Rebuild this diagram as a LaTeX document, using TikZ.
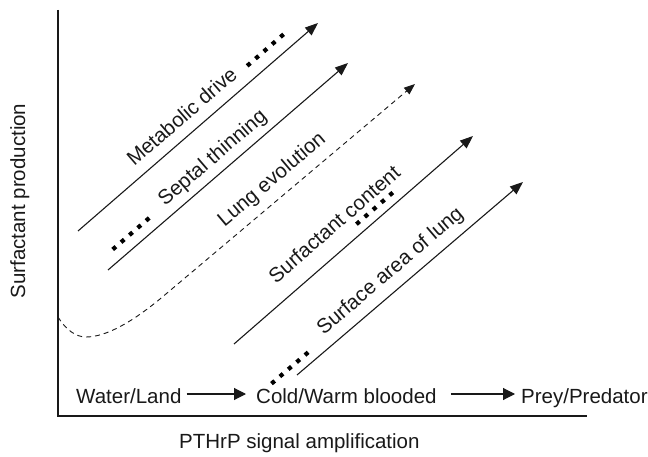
\documentclass[tikz,border=0pt]{standalone}
\usepackage{fontspec}
\setmainfont{Liberation Sans}
\usetikzlibrary{arrows.meta,calc}

\tikzset{
  ink/.style={draw=black!90},
  axisline/.style={ink, line width=1.3pt},
  trend/.style={ink, line width=1.1pt, -{Triangle[length=13pt,width=10pt]}},
  trenddash/.style={ink, line width=0.9pt, dash pattern=on 5pt off 4pt,
    -{Triangle[length=11pt,width=8.5pt]}},
  dotrow/.style={draw=black, line width=4.2pt, dash pattern=on 4.2pt off 6.8pt},
  lbl/.style={font=\fontsize{20.5pt}{24pt}\selectfont, text=black!90,
    inner xsep=0pt, text depth=0pt},
  rowtxt/.style={font=\fontsize{20.5pt}{24pt}\selectfont, text=black!90,
    inner sep=0pt, text height=18pt, text depth=0pt},
  steparrow/.style={ink, line width=1.1pt, -{Triangle[length=12pt,width=12pt]}}
}

\begin{document}
\begin{tikzpicture}[x=1pt,y=1pt]
\useasboundingbox (0,0) rectangle (648,456);

% axes
\coordinate (O) at (58,40);
\coordinate (Ytop) at (58,446);
\coordinate (Xend) at (587,40);
\draw[axisline] (Ytop) -- (O) -- (Xend);

\node[lbl, inner sep=0pt, rotate=90, anchor=base] (ylab) at (25,255) {Surfactant production};
\node[lbl, inner sep=0pt, anchor=base west] (xlab) at (179,8) {PTHrP signal amplification};

% diagonal trends
\coordinate (A1) at (78,225);  \coordinate (B1) at (318,433);
\coordinate (A2) at (108,186); \coordinate (B2) at (348,393);
\coordinate (A4) at (234,112); \coordinate (B4) at (473,320);
\coordinate (A5) at (297,81);  \coordinate (B5) at (523,274);

\draw[trend] (A1) -- (B1) node[lbl, sloped, pos=0.483, anchor=south, inner ysep=11pt] (metab) {Metabolic drive};
\draw[trend] (A2) -- (B2) node[lbl, sloped, pos=0.481, anchor=south, inner ysep=10pt] (septal) {Septal thinning};
\draw[trend] (A4) -- (B4) node[lbl, sloped, pos=0.487, anchor=south, inner ysep=17pt] (surfc) {Surfactant content};
\draw[trend] (A5) -- (B5) node[lbl, sloped, pos=0.466, anchor=south, inner ysep=12pt] (surfa) {Surface area of lung};

% lung evolution: dipping curve then rising dashed line
\coordinate (C0) at (58,139);
\coordinate (Cmin) at (86,119);
\coordinate (L0) at (160,157);
\coordinate (B3) at (415,372);
\draw[trenddash] (C0) .. controls (66,126) and (76,119) .. (Cmin)
  .. controls (106,119) and (132,134) .. (L0) -- (B3);
\path (L0) -- (B3) node[lbl, sloped, pos=0.487, anchor=south, inner ysep=13pt] (lung) {Lung evolution};

% rows of square dots beside the trends
\coordinate (m0) at ($(A1)!236pt!(B1)$);
\coordinate (m1) at ($(A1)!285pt!(B1)$);
\draw[dotrow] ($(m0)!14pt!90:(B1)$) -- ($(m1)!14pt!-90:(A1)$);

\coordinate (s0) at ($(A2)!17pt!(B2)$);
\coordinate (s1) at ($(A2)!66pt!(B2)$);
\draw[dotrow] ($(s0)!12.5pt!90:(B2)$) -- ($(s1)!12.5pt!-90:(A2)$);

\coordinate (c0) at ($(A4)!171pt!(B4)$);
\coordinate (c1) at ($(A4)!220pt!(B4)$);
\draw[dotrow] ($(c0)!10pt!90:(B4)$) -- ($(c1)!10pt!-90:(A4)$);

\coordinate (a0) at ($(A5)!-25pt!(B5)$);
\coordinate (a1) at ($(A5)!24pt!(B5)$);
\draw[dotrow] ($(a0)!10pt!90:(B5)$) -- ($(a1)!10pt!-90:(A5)$);

% sequence along the bottom
\node[rowtxt, anchor=base west] (water) at (76,53) {Water/Land};
\node[rowtxt, anchor=base west] (cold) at (256,53) {Cold/Warm blooded};
\node[rowtxt, anchor=base west] (prey) at (521,53) {Prey/Predator};
\draw[steparrow, shorten <=5pt, shorten >=10pt] (water.east) -- (cold.west);
\draw[steparrow, shorten <=14pt, shorten >=6pt] (cold.east) -- (prey.west);
\end{tikzpicture}
\end{document}
